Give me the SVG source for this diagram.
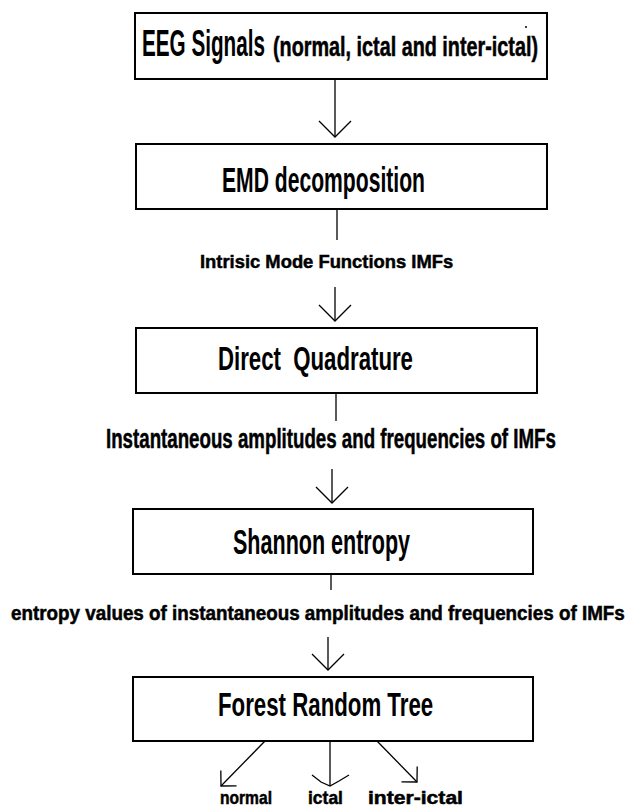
<svg xmlns="http://www.w3.org/2000/svg" width="630" height="809" viewBox="0 0 630 809">
<style>
.box{fill:#fff;stroke:#000;stroke-width:2}
.ln{fill:none;stroke:#000;stroke-width:1.3}
.t{font-family:"Liberation Sans",Arial,sans-serif;fill:#000;white-space:pre;font-weight:bold}
.lab{stroke:#000;stroke-width:0.5}
</style>
<defs>
<marker id="ah" markerUnits="userSpaceOnUse" viewBox="-18 -18 20 36" refX="0" refY="0" markerWidth="20" markerHeight="36" orient="auto" overflow="visible">
<path d="M-16,-16 L0,0 L-16,16" fill="none" stroke="#000" stroke-width="1.3"/>
</marker>
<marker id="ahs" markerUnits="userSpaceOnUse" viewBox="-13 -13 15 26" refX="0" refY="0" markerWidth="15" markerHeight="26" orient="auto" overflow="visible">
<path d="M-11,-11 L0,0 L-11,11" fill="none" stroke="#000" stroke-width="1.3"/>
</marker>
</defs>
<rect width="630" height="809" fill="#fff"/>

<g id="connectors">
<line class="ln" x1="335" y1="79" x2="335" y2="137" marker-end="url(#ah)"/>
<line class="ln" x1="337" y1="209" x2="337" y2="240"/>
<line class="ln" x1="335" y1="287" x2="335" y2="321" marker-end="url(#ah)"/>
<line class="ln" x1="336" y1="393" x2="336" y2="421"/>
<line class="ln" x1="332" y1="469" x2="332" y2="503" marker-end="url(#ah)"/>
<line class="ln" x1="331" y1="574" x2="331" y2="590"/>
<line class="ln" x1="328" y1="637" x2="328" y2="670" marker-end="url(#ah)"/>
<line class="ln" x1="265" y1="741" x2="221" y2="786" marker-end="url(#ahs)"/>
<line class="ln" x1="330" y1="741" x2="330" y2="786"/>
<polyline class="ln" points="312,775 321,782 330,786 339,781 349,775"/>
<line class="ln" x1="377" y1="741" x2="417" y2="782" marker-end="url(#ahs)"/>
</g>

<g id="n1">
<rect class="box" x="135" y="13" width="412" height="66"/>
<text class="t" transform="translate(142,56) scale(0.56,1)" font-size="36" textLength="219.6" lengthAdjust="spacingAndGlyphs">EEG Signals</text>
<text class="t lab" transform="translate(273,56) scale(0.73,1)" font-size="27" textLength="363" lengthAdjust="spacingAndGlyphs">(normal, ictal and inter-ictal)</text>
<circle cx="526" cy="27" r="1" fill="#000"/>
</g>

<g id="n2">
<rect class="box" x="136" y="144" width="411" height="65"/>
<text class="t" transform="translate(222,192) scale(0.58,1)" font-size="36" textLength="350" lengthAdjust="spacingAndGlyphs">EMD decomposition</text>
</g>

<g id="l1">
<text class="t lab" transform="translate(200,268) scale(0.97,1)" font-size="19" textLength="261" lengthAdjust="spacingAndGlyphs">Intrisic Mode Functions IMFs</text>
</g>

<g id="n3">
<rect class="box" x="136" y="328" width="401" height="65"/>
<text class="t" transform="translate(218,370) scale(0.67,1)" font-size="33" textLength="291" lengthAdjust="spacingAndGlyphs">Direct  Quadrature</text>
</g>

<g id="l2">
<text class="t lab" transform="translate(106,448) scale(0.69,1)" font-size="27" textLength="652" lengthAdjust="spacingAndGlyphs">Instantaneous amplitudes and frequencies of IMFs</text>
</g>

<g id="n4">
<rect class="box" x="133" y="509" width="400" height="65"/>
<text class="t" transform="translate(233,554) scale(0.6,1)" font-size="36" textLength="295" lengthAdjust="spacingAndGlyphs">Shannon entropy</text>
</g>

<g id="l3">
<text class="t lab" transform="translate(11,620) scale(0.94,1)" font-size="20" textLength="653" lengthAdjust="spacingAndGlyphs">entropy values of instantaneous amplitudes and frequencies of IMFs</text>
</g>

<g id="n5">
<rect class="box" x="133" y="677" width="400" height="64"/>
<text class="t" transform="translate(218,716) scale(0.66,1)" font-size="33" textLength="326" lengthAdjust="spacingAndGlyphs">Forest Random Tree</text>
</g>

<g id="o1"><text class="t lab" transform="translate(220,804) scale(0.82,1)" font-size="18" textLength="63.4" lengthAdjust="spacingAndGlyphs">normal</text></g>
<g id="o2"><text class="t lab" transform="translate(308,804) scale(0.92,1)" font-size="18" textLength="38" lengthAdjust="spacingAndGlyphs">ictal</text></g>
<g id="o3"><text class="t lab" transform="translate(368,804)" font-size="18" textLength="95" lengthAdjust="spacingAndGlyphs">inter-ictal</text></g>
</svg>
